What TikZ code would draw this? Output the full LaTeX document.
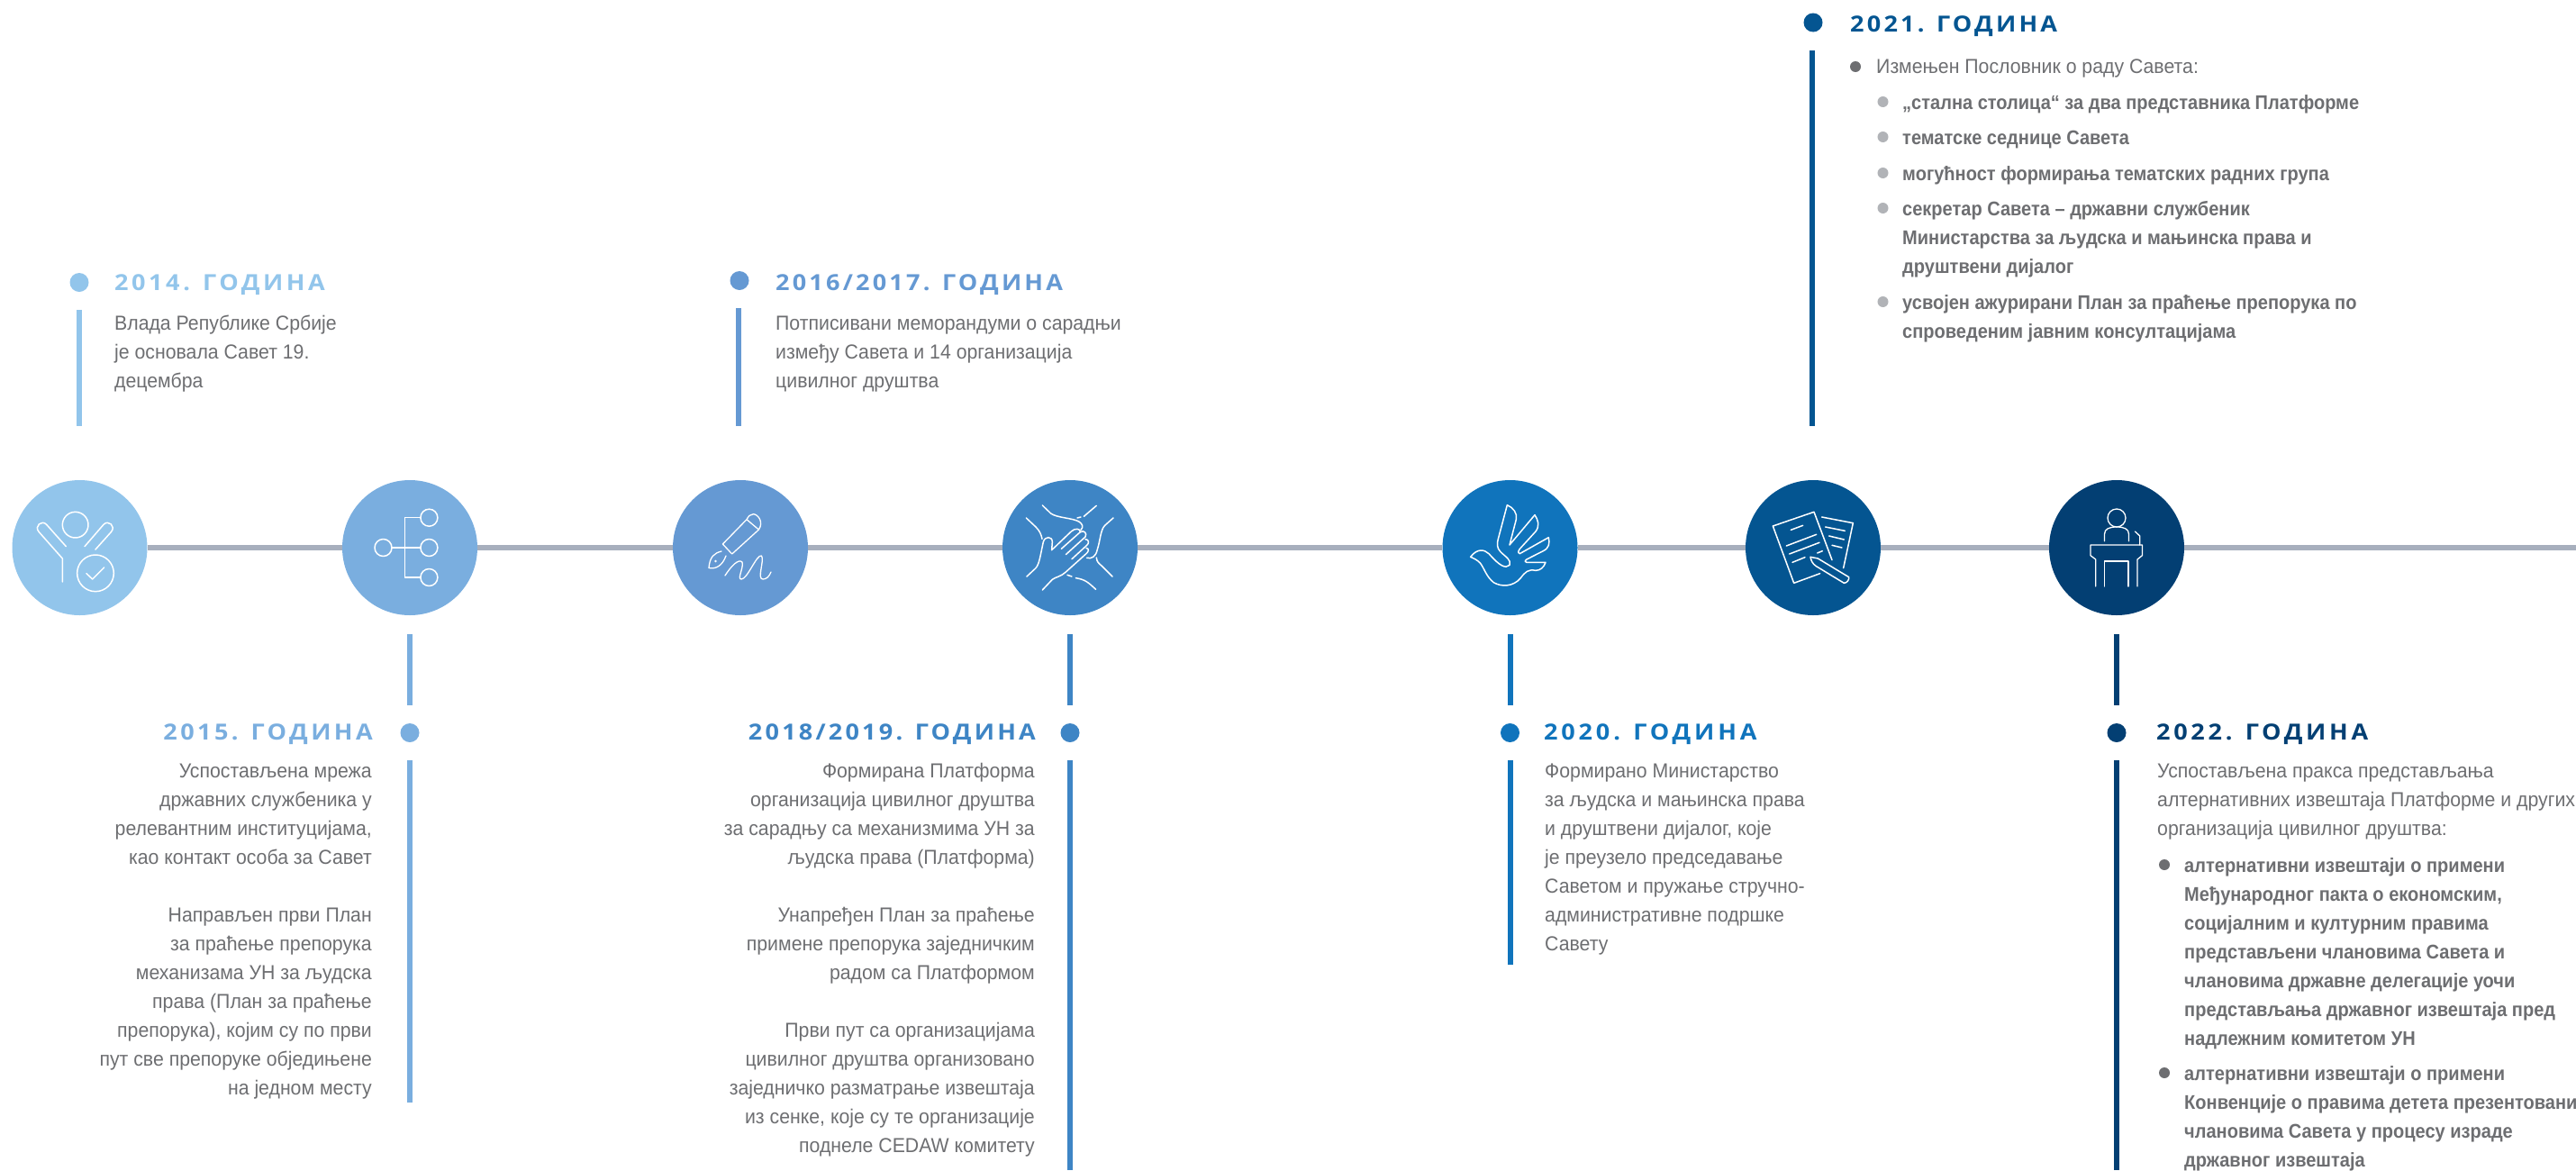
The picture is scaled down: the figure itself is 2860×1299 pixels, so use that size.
\documentclass[tikz,border=0pt]{standalone}
\usepackage{fontspec}
\setmainfont[FakeStretch=0.945,BoldFeatures={FakeStretch=0.91}]{Liberation Sans}
\newfontfamily\hdrfont[FakeStretch=1.1,LetterSpace=13,BoldFont={Open Sans Bold}]{Open Sans}
\definecolor{cA}{HTML}{92C5EB}
\definecolor{cB}{HTML}{7AAEDF}
\definecolor{cC}{HTML}{6599D3}
\definecolor{cD}{HTML}{3E85C5}
\definecolor{cE}{HTML}{1074BC}
\definecolor{cF}{HTML}{045591}
\definecolor{cG}{HTML}{033F73}
\definecolor{axis}{HTML}{A7AFBD}
\definecolor{bodytxt}{HTML}{6D6E71}
\definecolor{subdot}{HTML}{B1B3B7}
\tikzset{
 x=1pt,y=-1pt,
 disc/.style={circle,fill=#1,draw=none,minimum size=150pt,inner sep=0pt},
 ydot/.style={circle,fill=#1,draw=none,minimum size=21pt,inner sep=0pt},
 ldot/.style={circle,fill=#1,draw=none,minimum size=12pt,inner sep=0pt},
 axisline/.style={draw=axis,line width=6pt},
 bar/.style={draw=#1,line width=5.5pt},
 yhead/.style={text=#1,inner sep=0pt,font=\hdrfont\bfseries\fontsize{24.6}{30}\selectfont},
 body/.style={text=bodytxt,inner sep=0pt,font=\fontsize{22.5}{32}\selectfont},
 lbody/.style={body,anchor=base west,align=left},
 rbody/.style={body,anchor=base east,align=right},
 lbold/.style={text=bodytxt,inner sep=0pt,anchor=base west,align=left,font=\bfseries\fontsize{22}{32}\selectfont},
 icon/.style={draw=white,line width=1.5pt,line cap=round,line join=round},
 zoomed/.style={shift={(#1)},x=0.3333pt,y=-0.3333pt},
}
\begin{document}
\begin{tikzpicture}
\useasboundingbox (0,0) rectangle (2860,1299);
\clip (0,0) rectangle (2860,1299);
% axis and discs
\node[disc=cA] (c1) at (88.5,608) {};
\node[disc=cB] (c2) at (455,608) {};
\node[disc=cC] (c3) at (822,608) {};
\node[disc=cD] (c4) at (1188,608) {};
\node[disc=cE] (c5) at (1676.5,608) {};
\node[disc=cF] (c6) at (2013,608) {};
\node[disc=cG] (c7) at (2350,608) {};
\coordinate (axisend) at (2860,608);
\draw[axisline] (c1) -- (c2);
\draw[axisline] (c2) -- (c3);
\draw[axisline] (c3) -- (c4);
\draw[axisline] (c4) -- (c5);
\draw[axisline] (c5) -- (c6);
\draw[axisline] (c6) -- (c7);
\draw[axisline] (c7) -- (axisend);

% 2014
\node[ydot=cA] (d14) at (88,313.5) {};
\node[yhead=cA,anchor=base west] (h14) at (127,322) {\addfontfeature{LetterSpace=14.5}2014. ГОДИНА};
\coordinate (b14a) at (88,344); \coordinate (b14b) at (88,473);
\draw[bar=cA] (b14a) -- (b14b);
\node[lbody] (t14) at (127,430.5) {Влада Републике Србије\\је основала Савет 19.\\децембра};

% 2016
\node[ydot=cC] (d16) at (821,311.5) {};
\node[yhead=cC,anchor=base west] (h16) at (861,322) {2016/2017. ГОДИНА};
\coordinate (b16a) at (820,342); \coordinate (b16b) at (820,473);
\draw[bar=cC] (b16a) -- (b16b);
\node[lbody] (t16) at (861,430.5) {Потписивани меморандуми о сарадњи\\између Савета и 14 организација\\цивилног друштва};

% 2021
\node[ydot=cF] (d21) at (2013,25) {};
\node[yhead=cF,anchor=base west] (h21) at (2054,35) {2021. ГОДИНА};
\coordinate (b21a) at (2012,56); \coordinate (b21b) at (2012,473);
\draw[bar=cF] (b21a) -- (b21b);
\node[ldot=bodytxt] (l21) at (2060,74) {};
\node[lbody] (t21) at (2083,81) {Измењен Пословник о раду Савета:};
\node[ldot=subdot] (s1) at (2090.5,113) {};
\node[lbold] (t21a) at (2112,121) {„стална столица“ за два представника Платформе};
\node[ldot=subdot] (s2) at (2090.5,152) {};
\node[lbold] (t21b) at (2112,160) {тематске седнице Савета};
\node[ldot=subdot] (s3) at (2090.5,192) {};
\node[lbold] (t21c) at (2112,200) {могућност формирања тематских радних група};
\node[ldot=subdot] (s4) at (2090.5,231) {};
\node[lbold] (t21d) at (2112,303) {секретар Савета – државни службеник\\Министарства за људска и мањинска права и\\друштвени дијалог};
\node[ldot=subdot] (s5) at (2090.5,335) {};
\node[lbold] (t21e) at (2112,375) {усвојен ажурирани План за праћење препорука по\\спроведеним јавним консултацијама};

% stubs below the discs
\foreach \n/\x/\c in {15/455/cB,18/1188/cD,20/1677/cE,22/2350/cG}{
  \coordinate (st\n a) at (\x,704); \coordinate (st\n b) at (\x,783);
  \draw[bar=\c] (st\n a) -- (st\n b);
}

% 2015
\node[ydot=cB] (d15) at (455,813.5) {};
\node[yhead=cB,anchor=base east] (h15) at (414,821) {\addfontfeature{LetterSpace=14}2015. ГОДИНА};
\coordinate (b15a) at (455,844); \coordinate (b15b) at (455,1224);
\draw[bar=cB] (b15a) -- (b15b);
\node[rbody] (t15) at (413,1215) {Успостављена мрежа\\државних службеника у\\релевантним институцијама,\\као контакт особа за Савет\\[32pt]Направљен први План\\за праћење препорука\\механизама УН за људска\\права (План за праћење\\препорука), којим су по први\\пут све препоруке обједињене\\на једном месту};

% 2018
\node[ydot=cD] (d18) at (1188,813.5) {};
\node[yhead=cD,anchor=base east] (h18) at (1150,821) {2018/2019. ГОДИНА};
\coordinate (b18a) at (1188,844); \coordinate (b18b) at (1188,1299);
\draw[bar=cD] (b18a) -- (b18b);
\node[rbody] (t18) at (1149,1279) {Формирана Платформа\\организација цивилног друштва\\за сарадњу са механизмима УН за\\људска права (Платформа)\\[32pt]Унапређен План за праћење\\примене препорука заједничким\\радом са Платформом\\[32pt]Први пут са организацијама\\цивилног друштва организовано\\заједничко разматрање извештаја\\из сенке, које су те организације\\поднеле CEDAW комитету};

% 2020
\node[ydot=cE] (d20) at (1676.5,813.5) {};
\node[yhead=cE,anchor=base west] (h20) at (1714,821) {\addfontfeature{LetterSpace=15.5}2020. ГОДИНА};
\coordinate (b20a) at (1677,844); \coordinate (b20b) at (1677,1071);
\draw[bar=cE] (b20a) -- (b20b);
\node[lbody] (t20) at (1715,1055) {Формирано Министарство\\за људска и мањинска права\\и друштвени дијалог, које\\је преузело председавање\\Саветом и пружање стручно-\\административне подршке\\Савету};

% 2022
\node[ydot=cG] (d22) at (2350,813.5) {};
\node[yhead=cG,anchor=base west] (h22) at (2394,821) {\addfontfeature{LetterSpace=15}2022. ГОДИНА};
\coordinate (b22a) at (2350,844); \coordinate (b22b) at (2350,1299);
\draw[bar=cG] (b22a) -- (b22b);
\node[lbody] (t22) at (2395,927) {Успостављена пракса представљања\\алтернативних извештаја Платформе и других\\организација цивилног друштва:};
\node[ldot=bodytxt] (l22a) at (2403,960) {};
\node[lbold] (t22a) at (2425,1160) {алтернативни извештаји о примени\\Међународног пакта о економским,\\социјалним и културним правима\\представљени члановима Савета и\\члановима државне делегације уочи\\представљања државног извештаја пред\\надлежним комитетом УН};
\node[ldot=bodytxt] (l22b) at (2403,1191) {};
\node[lbold] (t22b) at (2425,1295) {алтернативни извештаји о примени\\Конвенције о правима детета презентовани\\члановима Савета у процесу израде\\државног извештаја};

% icon 1
\begin{scope}[zoomed={0,520}]
 \draw[icon] (251,188) circle[radius=43];
 \draw[icon] (318,349) circle[radius=61];
 \draw[icon] (288,350) -- (308,369) -- (347,330);
 \draw[icon] (220,260) -- (155,187) .. controls (140,170) and (112,192) .. (130,212) -- (208,300) -- (208,378);
 \draw[icon] (282,260) -- (345,187) .. controls (360,170) and (388,192) .. (370,212) -- (318,270);
\end{scope}
% icon 2
\begin{scope}
 \draw[icon] (425.5,608) circle[radius=9.5];
 \draw[icon] (476.4,574.7) circle[radius=9.5];
 \draw[icon] (476.4,608) circle[radius=9.5];
 \draw[icon] (476.4,641) circle[radius=9.5];
 \draw[icon] (467,574.7) -- (449.7,574.7) -- (449.7,641) -- (467,641);
 \draw[icon] (435,608) -- (467,608);
\end{scope}
% icon 3
\begin{scope}[icon/.append style={line width=1.3pt}]
 \draw[icon] (829,576.7) -- (802.4,604) -- (812.7,615) -- (842.4,588) .. controls (848,580) and (842,571) .. (836.4,570.7) .. controls (833,570.7) and (831,573) .. (829,576.7) -- (842.4,588);
 \draw[icon] (801,612) .. controls (793,614) and (788,618) .. (787,630.5) .. controls (795,632) and (802,628) .. (806,617);
 \fill[white] (794.5,623) circle[radius=1.3];
 \draw[icon] (805,639) .. controls (812,628) and (820,620) .. (824,624) .. controls (826,630) and (818,643) .. (823,643) .. controls (830,643) and (840,615) .. (845.5,617) .. controls (849,622) and (840,643) .. (847,643) .. controls (851,643) and (854,640) .. (856,635);
\end{scope}
% icon 4
\begin{scope}[zoomed={1100,520}]
 \draw[icon] (120,360) -- (150,332) .. controls (162,318) and (165,290) .. (175,245) .. controls (180,225) and (205,225) .. (205,245) -- (203,272) -- (268,210) .. controls (280,198) and (300,200) .. (298,212) -- (235,268);
 \draw[icon] (298,212) .. controls (310,204) and (322,216) .. (315,228) -- (250,287);
 \draw[icon] (315,236) .. controls (328,236) and (328,250) .. (320,256) -- (270,302);
 \draw[icon] (318,265) .. controls (330,268) and (325,278) .. (318,284) -- (250,345) .. controls (235,360) and (215,362) .. (205,370) -- (172,405);
 \draw[icon] (172,123) -- (200,150) .. controls (220,165) and (275,165) .. (295,178) .. controls (305,185) and (310,195) .. (300,205);
 \draw[icon] (408,165) -- (380,190) .. controls (365,205) and (365,240) .. (355,270) .. controls (350,295) and (335,302) .. (320,298);
 \draw[icon] (352,124) -- (310,160);
 \draw[icon] (288,165) -- (300,162);
 \draw[icon] (255,355) -- (270,360);
 \draw[icon] (283,365) .. controls (315,370) and (325,380) .. (350,403);
 \draw[icon] (405,360) -- (370,325) .. controls (358,315) and (353,310) .. (352,297);
 \draw[icon] (118,165) -- (150,195) .. controls (165,210) and (168,222) .. (171,235);
\end{scope}
% icon 5
\begin{scope}[zoomed={1590,520}]
 \draw[icon] (128,295) .. controls (150,265) and (175,270) .. (190,285) .. controls (225,325) and (245,335) .. (258,322) .. controls (265,305) and (245,295) .. (228,278) .. controls (215,265) and (216,250) .. (220,235) -- (250,122) .. controls (270,130) and (285,150) .. (280,170) -- (258,255) -- (342,155) .. controls (352,170) and (360,190) .. (345,210) -- (292,268) .. controls (284,278) and (288,285) .. (292,284) -- (388,230) .. controls (392,250) and (390,265) .. (370,275) -- (315,303) .. controls (308,308) and (308,313) .. (315,313) -- (378,313) .. controls (372,330) and (360,340) .. (345,340) .. controls (320,335) and (310,345) .. (295,365) .. controls (270,395) and (230,395) .. (205,380) .. controls (180,360) and (175,335) .. (160,315) .. controls (150,305) and (140,300) .. (128,295) -- cycle;
\end{scope}
% icon 6
\begin{scope}[zoomed={1930,520}]
 \draw[icon] (272,350) -- (185,382) -- (115,192) -- (252,145) -- (312,305);
 \draw[icon] (175,205) -- (215,190);
 \draw[icon] (160,258) -- (260,220);
 \draw[icon] (170,285) -- (270,247);
 \draw[icon] (180,313) -- (222,296);
 \draw[icon] (263,282) -- (280,275);
 \draw[icon] (278,162) -- (382,182) -- (350,332);
 \draw[icon] (290,195) -- (355,208);
 \draw[icon] (302,225) -- (352,237);
 \draw[icon] (312,256) -- (345,264);
 \draw[icon] (240,295) -- (265,300) -- (368,362) .. controls (370,370) and (362,382) .. (352,382) -- (258,325) .. controls (248,318) and (242,308) .. (240,295) -- cycle;
\end{scope}
% icon 7
\begin{scope}[icon/.append style={line width=1.3pt}]
 \draw[icon] (2350,575) circle[radius=10];
 \draw[icon] (2336.5,600.7) -- (2336.5,593) .. controls (2336.5,587) and (2342,585) .. (2350,585) .. controls (2358,585) and (2363.5,587) .. (2363.5,593) -- (2363.5,600.7);
 \draw[icon] (2370.4,590) -- (2375.7,595) -- (2375.7,605);
 \draw[icon] (2326.7,651) -- (2326.7,621) -- (2321,616.7) -- (2321,605) -- (2378.4,605) -- (2378.4,616.7) -- (2373,621) -- (2373,651);
 \draw[icon] (2336.5,651) -- (2336.5,623) -- (2363,623) -- (2363,651);
\end{scope}
\end{tikzpicture}
\end{document}
